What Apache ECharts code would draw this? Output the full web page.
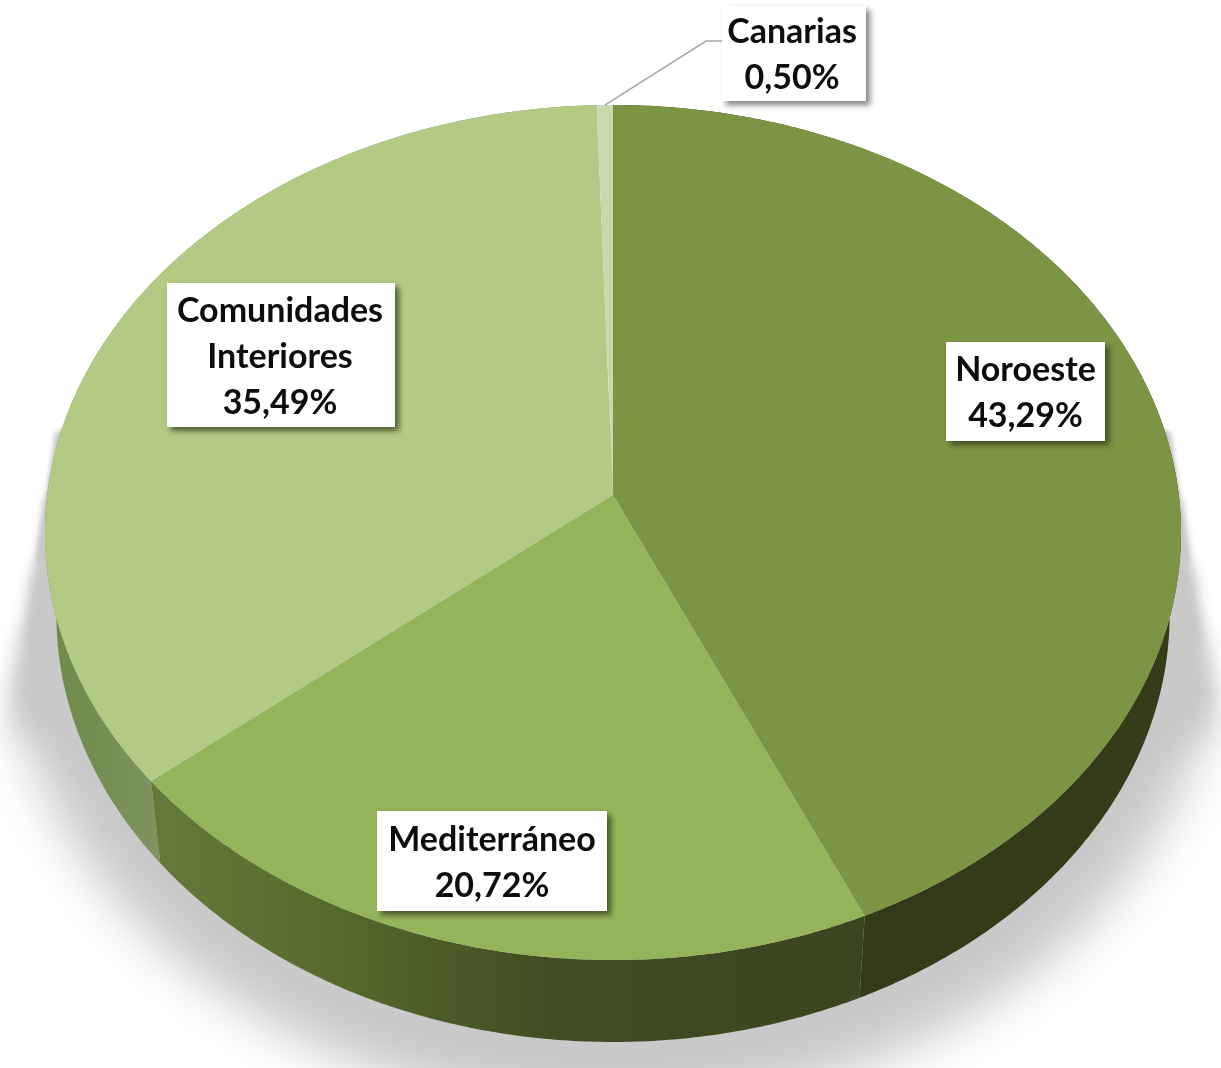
<!DOCTYPE html>
<html><head><meta charset="utf-8">
<style>html,body{margin:0;padding:0;background:#fff}#c{width:1221px;height:1068px}</style>
<script src="https://cdn.jsdelivr.net/npm/echarts@6/dist/echarts.min.js"></script>
</head><body><div id="c"></div>
<script>
// Data
const regions = ['Noroeste', 'Mediterráneo', 'Comunidades\nInteriores', 'Canarias'];
const shares = [43.29, 20.72, 35.49, 0.50];
const shareLabels = ['43,29%', '20,72%', '35,49%', '0,50%'];

// Style / layout
const topColors = ['#7c9544', '#95b358', '#b3ca85', '#c9d9ae'];
const sideColors = [
  {type:'linear',x:860,y:0,x2:1175,y2:0,global:true,colorStops:[{offset:0,color:'#323a18'},{offset:1,color:'#343c19'}]},
  {type:'linear',x:160,y:0,x2:860,y2:0,global:true,colorStops:[{offset:0,color:'#64793a'},{offset:.25,color:'#566a2d'},{offset:.55,color:'#414d23'},{offset:1,color:'#3b451f'}]},
  {type:'linear',x:55,y:0,x2:165,y2:0,global:true,colorStops:[{offset:0,color:'#6e8a48'},{offset:1,color:'#7f9463'}]},
  '#7f9463'
];
const labelBoxes = [[946,342,159,99],[377,811,230,100],[167,283,228,144],[722,6,144,95]];
const labelNudge = [0, 0, -1, -2];
const shadowLayers = [[433,560,4],[500,640,10],[570,700,18],[640,725,28]];
const cx = 613, apexY = 495, persp = -0.0877, scaleY = 424.2, scaleX = 565.8;
const depth = 82, baseShrink = 0.98;
const fontFamily = 'Lato, "Open Sans", sans-serif';

function rimPoint(deg, base) {
  const r = deg * Math.PI / 180, u = Math.sin(r), v = -Math.cos(r), w = 1 + persp * v;
  const x = scaleX * u / w, y = scaleY * v / w;
  return base ? [cx + x * baseShrink, apexY + y + depth] : [cx + x, apexY + y];
}
function arc(a0, a1, base) {
  const n = Math.max(2, Math.ceil((a1 - a0) * 2)), pts = [];
  for (let i = 0; i <= n; i++) pts.push(rimPoint(a0 + (a1 - a0) * i / n, base));
  return pts;
}
const startAngles = [];
shares.reduce((s, v, i) => (startAngles[i] = s, s + v * 3.6), 0);
const sliceData = shares.map((v, i) => [i, v]);

function renderSide(p, api) {
  const i = api.value(0), a0 = startAngles[i], a1 = a0 + api.value(1) * 3.6;
  return {type:'polygon', shape:{points: arc(a0,a1,false).concat(arc(a0,a1,true).reverse())},
    style:{fill: sideColors[i]}, silent:true};
}
function renderTop(p, api) {
  const i = api.value(0), a0 = startAngles[i], a1 = a0 + api.value(1) * 3.6;
  return {type:'polygon', shape:{points: [[cx, apexY]].concat(arc(a0,a1,false))},
    style:{fill: topColors[i]}, silent:true};
}
function blurred(points, blur) {
  const off = 3000;
  return {type:'polygon', shape:{points: points.map(q => [q[0] - off, q[1]])},
    style:{fill:'#c9c9c9', shadowColor:'#c9c9c9', shadowBlur:blur, shadowOffsetX:off, shadowOffsetY:0}, silent:true};
}
const edgeX = y => 55 - 0.15 * (y - 433);
function layerPoints(l) {
  const yT = l[0], yB = l[1];
  const left = [[edgeX(yT) + 70, yT - 40], [edgeX(yT), yT], [edgeX(yB), yB], [edgeX(yB) + 70, yB + 40]];
  return left.concat(left.slice().reverse().map(q => [2 * cx - q[0], q[1]]));
}
function renderShadow(p, api) {
  const ecx = 613, ecy = 621, rx = 605, ry = 488, pts = [];
  for (let t = 170; t >= 10; t -= 2) {
    const r = t * Math.PI / 180;
    pts.push([ecx + rx * Math.cos(r), ecy + ry * Math.sin(r)]);
  }
  return {type:'group', children: [blurred(pts, 50)].concat(shadowLayers.map(l => blurred(layerPoints(l), l[2])))};
}
function renderLabel(p, api) {
  const i = api.value(0), b = labelBoxes[i], kids = [];
  if (i === 3) kids.push({type:'polyline', shape:{points:[rimPoint(startAngles[3] + shares[3] * 1.8), [706,41], [722,41]]},
    style:{stroke:'#a6a6a6', lineWidth:1.5, fill:null}, silent:true});
  kids.push({type:'rect', shape:{x:b[0],y:b[1],width:b[2],height:b[3]},
    style:{fill:'#fff', shadowColor: i === 3 ? 'rgba(60,60,60,.65)' : 'rgba(35,45,15,.7)', shadowBlur:6, shadowOffsetX:4, shadowOffsetY:4}, silent:true});
  kids.push({type:'text', x:b[0]+b[2]/2+labelNudge[i], y:b[1]+b[3]/2+2,
    style:{text: regions[i] + '\n' + shareLabels[i], x:0, y:0, align:'center', verticalAlign:'middle',
      fontFamily, fontWeight:700, fontSize:34, lineHeight:46, fill:'#0d0d0d'}, silent:true});
  return {type:'group', children:kids};
}
const chart = echarts.init(document.getElementById('c'), null, {renderer:'canvas'});
chart.setOption({
  animation:false,
  backgroundColor:'#fff',
  series:[
    {type:'custom', coordinateSystem:'none', z:1, data:[[0,0]], renderItem:renderShadow},
    {type:'custom', coordinateSystem:'none', z:2, data:[sliceData[2],sliceData[0],sliceData[1]], renderItem:renderSide},
    {type:'custom', coordinateSystem:'none', z:3, data:sliceData, renderItem:renderTop},
    {type:'custom', coordinateSystem:'none', z:4, data:sliceData, renderItem:renderLabel}
  ]
});
</script></body></html>
